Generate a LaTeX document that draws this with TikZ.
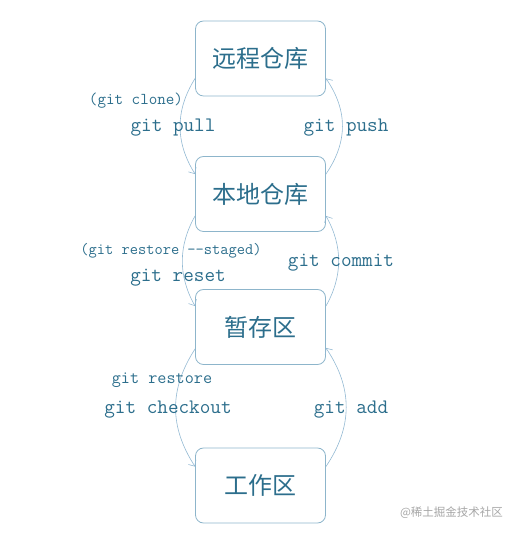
\documentclass[tikz,border=0pt]{standalone}
\usepackage{fontspec}
\newfontfamily\cjk{Noto Sans CJK SC}
\usetikzlibrary{arrows.meta}
\definecolor{txt}{HTML}{2C6E8C}
\definecolor{boxc}{HTML}{8DB5CB}
\definecolor{arr}{HTML}{93B9D3}
\tikzset{
  box/.style={draw=boxc, line width=0.8pt, rounded corners=8pt, minimum width=130pt, minimum height=75pt, inner sep=0pt, font=\cjk\fontsize{24}{28}\selectfont, text=txt},
  lbl/.style={font=\ttfamily\fontsize{20.6}{22}\selectfont, text=txt, inner sep=0pt},
  slbl/.style={font=\ttfamily\fontsize{16.6}{18}\selectfont, text=txt, inner sep=0pt},
  conn/.style={draw=arr, line width=0.6pt, -{Straight Barb[length=5pt,width=9pt]}},
}
\begin{document}
\begin{tikzpicture}
\useasboundingbox (0pt,0pt) rectangle (515pt,535pt);
\node[box] (b1) at (260.5pt,476.5pt) {远程仓库};
\node[box] (b2) at (260.5pt,341pt) {本地仓库};
\node[box] (b3) at (260.5pt,208pt) {暂存区};
\node[box] (b4) at (260.5pt,49.5pt) {工作区};
% b1 <-> b2
\draw[conn] ([yshift=18pt]b1.south west) .. controls +(-20pt,-32pt) and +(-20pt,32pt) .. ([yshift=-18pt]b2.north west);
\draw[conn] ([yshift=-18pt]b2.north east) .. controls +(22pt,32pt) and +(22pt,-32pt) .. ([yshift=18pt]b1.south east);
% b2 <-> b3
\draw[conn] ([yshift=16pt]b2.south west) .. controls +(-17pt,-30pt) and +(-17pt,30pt) .. ([yshift=-17pt]b3.north west);
\draw[conn] ([yshift=-17pt]b3.north east) .. controls +(17pt,30pt) and +(17pt,-30pt) .. ([yshift=16pt]b2.south east);
% b3 <-> b4
\draw[conn] ([yshift=16pt]b3.south west) .. controls +(-26pt,-40pt) and +(-26pt,40pt) .. ([yshift=-19pt]b4.north west);
\draw[conn] ([yshift=-19pt]b4.north east) .. controls +(27pt,40pt) and +(27pt,-40pt) .. ([yshift=17pt]b3.south east);
% labels
\node[slbl] (l1) at (136pt,434.5pt) {(git clone)};
\node[lbl] (l2) at (173pt,407.5pt) {git pull};
\node[lbl] (l3) at (346pt,407.5pt) {git push};
\node[slbl, font=\ttfamily\fontsize{16}{18}\selectfont] (l4) at (171pt,284.5pt) {(git restore --staged)};
\node[lbl] (l5) at (178pt,257.5pt) {git reset};
\node[lbl] (l6) at (341pt,272.5pt) {git commit};
\node[slbl, font=\ttfamily\fontsize{17.7}{19}\selectfont] (l7) at (162pt,154.5pt) {git restore};
\node[lbl] (l8) at (168pt,125.5pt) {git checkout};
\node[lbl] (l9) at (351pt,125.5pt) {git add};
\node[font=\cjk\fontsize{11.5}{13}\selectfont, text=black!35, inner sep=0pt] (wm) at (451.5pt,22pt) {@稀土掘金技术社区};
\end{tikzpicture}
\end{document}
